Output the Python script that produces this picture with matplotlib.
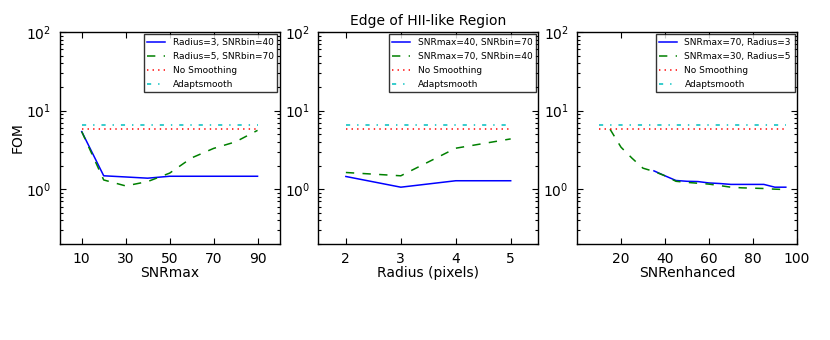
import matplotlib
matplotlib.use("Agg")
import matplotlib.pyplot as plt
from matplotlib.ticker import LogLocator

# SNRmax panel
snrmax = [10, 20, 30, 40, 50, 60, 70, 80, 90]
fom_snrmax_r3 = [5.4, 1.48, 1.43, 1.38, 1.46, 1.46, 1.46, 1.46, 1.46]
fom_snrmax_r5 = [5.4, 1.31, 1.10, 1.25, 1.6, 2.5, 3.3, 4.0, 5.6]

# Radius panel
radius = [2, 3, 4, 5]
fom_radius_a = [1.45, 1.06, 1.28, 1.28]
fom_radius_b = [1.63, 1.48, 3.32, 4.36]

# SNRenhanced panel
snr_enh_a = [35, 40, 45, 50, 55, 60, 65, 70, 75, 80, 85, 90, 95]
fom_enh_a = [1.71, 1.48, 1.29, 1.26, 1.25, 1.2, 1.18, 1.15, 1.15, 1.15, 1.15, 1.06, 1.06]
snr_enh_b = [15, 20, 25, 30, 35, 40, 45, 50, 55, 60, 65, 70, 75, 80, 85, 90, 95]
fom_enh_b = [5.8, 3.42, 2.48, 1.85, 1.68, 1.48, 1.26, 1.22, 1.19, 1.16, 1.11, 1.06, 1.04, 1.03, 1.02, 1.0, 0.99]

# reference levels
fom_nosmooth = 5.9
fom_adaptsmooth = 6.5

ref_x = [[10, 90], [2, 5], [10, 95]]

plt.rcParams['font.family'] = 'DejaVu Sans'
plt.rcParams['xtick.direction'] = 'in'
plt.rcParams['ytick.direction'] = 'in'
plt.rcParams['xtick.top'] = True
plt.rcParams['ytick.right'] = True
plt.rcParams['xtick.major.size'] = 4
plt.rcParams['ytick.major.size'] = 4
plt.rcParams['ytick.minor.size'] = 2.5
plt.rcParams['ytick.minor.width'] = 0.8
plt.rcParams['xtick.major.pad'] = 6
plt.rcParams['ytick.major.pad'] = 6
# old-style dash patterns
plt.rcParams['lines.scale_dashes'] = False
plt.rcParams['lines.dashed_pattern'] = [6, 6]
plt.rcParams['lines.dotted_pattern'] = [1, 3]
plt.rcParams['lines.dashdot_pattern'] = [3, 5, 1, 5]

fig, axs = plt.subplots(1, 3, figsize=(8.3, 3.4), dpi=100)
fig.subplots_adjust(left=0.072, right=0.96, bottom=0.282, top=0.906, wspace=0.177)

series = [
    (snrmax, fom_snrmax_r3, snrmax, fom_snrmax_r5,
     'Radius=3, SNRbin=40', 'Radius=5, SNRbin=70'),
    (radius, fom_radius_a, radius, fom_radius_b,
     'SNRmax=40, SNRbin=70', 'SNRmax=70, SNRbin=40'),
    (snr_enh_a, fom_enh_a, snr_enh_b, fom_enh_b,
     'SNRmax=70, Radius=3', 'SNRmax=30, Radius=5'),
]

for i, ax in enumerate(axs):
    xa, ya, xb, yb, la, lb = series[i]
    ax.plot(xa, ya, 'b-', lw=1.1, label=la)
    ax.plot(xb, yb, 'g--', lw=1.1, label=lb)
    ax.plot(ref_x[i], [fom_nosmooth] * 2, 'r:', lw=1.1, label='No Smoothing')
    ax.plot(ref_x[i], [fom_adaptsmooth] * 2, 'c-.', lw=1.1, label='Adaptsmooth')
    ax.set_yscale('log')
    ax.set_ylim(0.2, 100)
    ax.yaxis.set_minor_locator(LogLocator(base=10, subs=range(2, 10)))
    ax.tick_params(labelsize=10)
    leg = ax.legend(loc='upper right', fontsize=6.5, fancybox=False,
                    borderaxespad=0.25, handlelength=2.0, labelspacing=0.55)
    leg.get_frame().set_edgecolor('black')
    leg.get_frame().set_linewidth(1)
    for s in ax.spines.values():
        s.set_linewidth(1)

axs[0].set_xlim(0, 100)
axs[0].set_xticks([10, 30, 50, 70, 90])
axs[0].set_xlabel('SNRmax', fontsize=10, labelpad=0)
axs[0].set_ylabel('FOM', fontsize=10, labelpad=1)

axs[1].set_xlim(1.5, 5.5)
axs[1].set_xticks([2, 3, 4, 5])
axs[1].set_xlabel('Radius (pixels)', fontsize=10, labelpad=0)
axs[1].set_title('Edge of HII-like Region', fontsize=10, pad=5)

axs[2].set_xlim(0, 100)
axs[2].set_xticks([20, 40, 60, 80, 100])
axs[2].set_xlabel('SNRenhanced', fontsize=10, labelpad=0)

fig.savefig('out.png', dpi=100)
